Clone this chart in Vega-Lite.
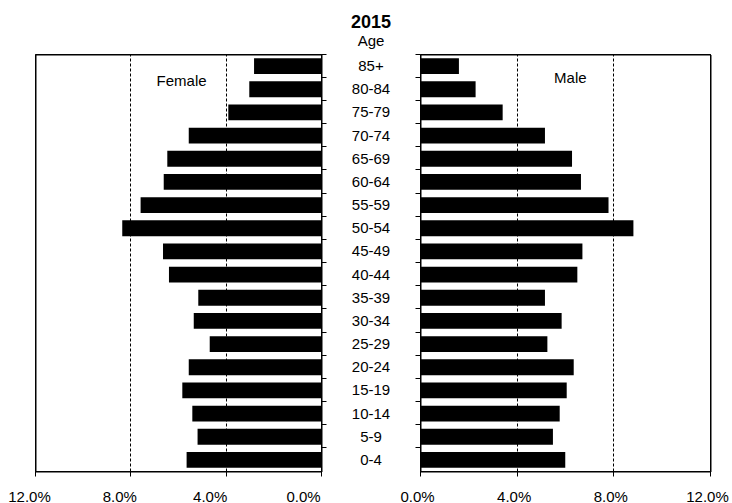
{
  "$schema": "https://vega.github.io/schema/vega-lite/v6.json",
  "autosize": {"type": "none"},
  "padding": {"left": 35.5, "top": 54.5, "right": 696.5, "bottom": 448.5},
  "bounds": "flush",
  "spacing": 0,
  "config": {
    "font": "Liberation Sans",
    "view": {"stroke": "#000", "strokeWidth": 1, "strokeOpacity": 1},
    "axis": {"translate": 0, "labelFont": "Liberation Sans", "labelFontSize": 15, "labelColor": "#000", "domainColor": "#000", "tickColor": "#000", "gridColor": "#000", "gridOpacity": 1, "tickWidth": 1, "domainWidth": 1, "labelFlush": false}
  },
  "datasets": {
    "pop": [
      {"age": "85+", "female": 0.0283, "male": 0.0159},
      {"age": "80-84", "female": 0.0303, "male": 0.0228},
      {"age": "75-79", "female": 0.0391, "male": 0.0340},
      {"age": "70-74", "female": 0.0557, "male": 0.0515},
      {"age": "65-69", "female": 0.0647, "male": 0.0627},
      {"age": "60-64", "female": 0.0662, "male": 0.0664},
      {"age": "55-59", "female": 0.0759, "male": 0.0778},
      {"age": "50-54", "female": 0.0836, "male": 0.0881},
      {"age": "45-49", "female": 0.0665, "male": 0.0670},
      {"age": "40-44", "female": 0.0640, "male": 0.0649},
      {"age": "35-39", "female": 0.0517, "male": 0.0515},
      {"age": "30-34", "female": 0.0536, "male": 0.0584},
      {"age": "25-29", "female": 0.0469, "male": 0.0525},
      {"age": "20-24", "female": 0.0557, "male": 0.0634},
      {"age": "15-19", "female": 0.0584, "male": 0.0605},
      {"age": "10-14", "female": 0.0542, "male": 0.0576},
      {"age": "5-9", "female": 0.0520, "male": 0.0548},
      {"age": "0-4", "female": 0.0566, "male": 0.0599}
    ]
  },
  "hconcat": [
    {
      "width": 286,
      "height": 417,
      "view": {"stroke": "#000", "strokeWidth": 1},
      "layer": [
        {
          "data": {"name": "pop"},
          "mark": {"type": "bar", "color": "#000", "height": {"band": 0.68}},
          "encoding": {
            "y": {"field": "age", "type": "nominal", "sort": null,
              "scale": {"domain": ["85+","80-84","75-79","70-74","65-69","60-64","55-59","50-54","45-49","40-44","35-39","30-34","25-29","20-24","15-19","10-14","5-9","0-4"], "paddingInner": 0, "paddingOuter": 0},
              "axis": {"orient": "right", "labels": false, "ticks": true, "tickSize": 5, "bandPosition": 0, "title": null, "domain": true, "grid": false}},
            "x": {"field": "female", "type": "quantitative",
              "scale": {"domain": [0, 0.12], "reverse": true, "nice": false},
              "axis": {"values": [0, 0.04, 0.08, 0.12], "format": ".1%", "grid": true, "gridDash": [3, 2], "title": null, "tickSize": 5, "labelPadding": 13,
                "labelOffset": {"condition": [{"test": "datum.value > 0.1", "value": -6}, {"test": "datum.value > 0.06", "value": -11}, {"test": "datum.value > 0.02", "value": -16}], "value": -18}}}
          }
        },
        {
          "data": {"values": [{"label": "Female"}]},
          "mark": {"type": "text", "fontSize": 15, "font": "Liberation Sans", "color": "#000", "dy": -8},
          "encoding": {
            "x": {"datum": 0.0587},
            "y": {"datum": "80-84"},
            "text": {"field": "label"}
          }
        },
        {
          "data": {"values": [{"edge": "top"}]},
          "mark": {"type": "rule", "color": "#000", "strokeWidth": 1},
          "encoding": {"y": {"datum": "85+", "bandPosition": 0}}
        },
        {
          "data": {"values": [{"edge": "outer"}]},
          "mark": {"type": "rule", "color": "#000", "strokeWidth": 1},
          "encoding": {"x": {"datum": 0.12}}
        }
      ]
    },
    {
      "width": 99,
      "height": 417,
      "view": {"stroke": null},
      "title": {"text": "2015", "subtitle": "Age", "fontSize": 18, "fontWeight": "bold", "subtitleFontSize": 15, "anchor": "middle", "offset": 6, "subtitlePadding": 2, "font": "Liberation Sans", "subtitleFont": "Liberation Sans", "color": "#000", "subtitleColor": "#000"},
      "data": {"name": "pop"},
      "mark": {"type": "text", "fontSize": 15, "font": "Liberation Sans", "color": "#000"},
      "encoding": {
        "y": {"field": "age", "type": "nominal", "sort": null,
          "scale": {"domain": ["85+","80-84","75-79","70-74","65-69","60-64","55-59","50-54","45-49","40-44","35-39","30-34","25-29","20-24","15-19","10-14","5-9","0-4"], "paddingInner": 0, "paddingOuter": 0},
          "axis": null},
        "text": {"field": "age"}
      }
    },
    {
      "width": 290,
      "height": 417,
      "view": {"stroke": "#000", "strokeWidth": 1},
      "layer": [
        {
          "data": {"name": "pop"},
          "mark": {"type": "bar", "color": "#000", "height": {"band": 0.68}},
          "encoding": {
            "y": {"field": "age", "type": "nominal", "sort": null,
              "scale": {"domain": ["85+","80-84","75-79","70-74","65-69","60-64","55-59","50-54","45-49","40-44","35-39","30-34","25-29","20-24","15-19","10-14","5-9","0-4"], "paddingInner": 0, "paddingOuter": 0},
              "axis": {"orient": "left", "labels": false, "ticks": true, "tickSize": 5, "bandPosition": 0, "title": null, "domain": true, "grid": false}},
            "x": {"field": "male", "type": "quantitative",
              "scale": {"domain": [0, 0.12], "nice": false},
              "axis": {"values": [0, 0.04, 0.08, 0.12], "format": ".1%", "grid": true, "gridDash": [3, 2], "title": null, "tickSize": 5, "labelPadding": 13, "labelOffset": -3}}
          }
        },
        {
          "data": {"values": [{"label": "Male"}]},
          "mark": {"type": "text", "fontSize": 15, "font": "Liberation Sans", "color": "#000", "dy": -11.5},
          "encoding": {
            "x": {"datum": 0.062},
            "y": {"datum": "80-84"},
            "text": {"field": "label"}
          }
        },
        {
          "data": {"values": [{"edge": "top"}]},
          "mark": {"type": "rule", "color": "#000", "strokeWidth": 1},
          "encoding": {"y": {"datum": "85+", "bandPosition": 0}}
        },
        {
          "data": {"values": [{"edge": "outer"}]},
          "mark": {"type": "rule", "color": "#000", "strokeWidth": 1},
          "encoding": {"x": {"datum": 0.12}}
        }
      ]
    }
  ]
}
